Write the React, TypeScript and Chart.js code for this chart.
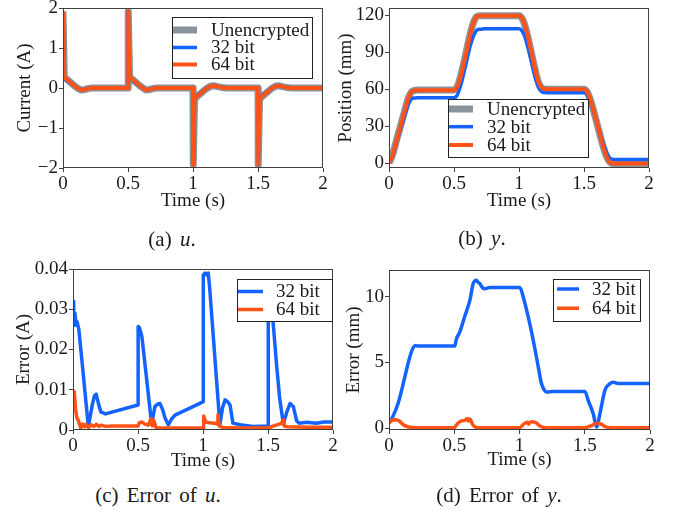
import React, { useEffect, useRef } from "react";
import { Chart, registerables } from "chart.js";

Chart.register(...registerables);

// ---------------- data ----------------
const X_TICKS = [0, 0.5, 1, 1.5, 2];
const X_TICK_LABELS = ["0", "0.5", "1", "1.5", "2"];

// (a) control input u
const tU = [0, 0.01, 0.04, 0.065, 0.09, 0.115, 0.14, 0.165, 0.19, 0.22,
  0.5, 0.502, 0.512, 0.54, 0.565, 0.59, 0.615, 0.64, 0.665, 0.69, 0.72,
  1.0, 1.002, 1.012, 1.04, 1.065, 1.09, 1.115, 1.14, 1.165, 1.19, 1.22, 1.26,
  1.5, 1.502, 1.512, 1.54, 1.565, 1.59, 1.615, 1.64, 1.665, 1.69, 1.72, 1.76, 2.0];
const uUnencrypted = [1.92, 0.27, 0.19, 0.12, 0.05, -0.01, -0.05, -0.04, -0.015, 0,
  0, 1.92, 0.28, 0.2, 0.13, 0.06, 0, -0.05, -0.04, -0.015, 0,
  0, -1.92, -0.27, -0.19, -0.12, -0.05, 0.01, 0.05, 0.055, 0.035, 0.015, 0,
  0, -1.92, -0.27, -0.19, -0.12, -0.05, 0.01, 0.05, 0.055, 0.035, 0.015, 0, 0];
const u32 = [1.89, 0.244, 0.164, 0.103, 0.045, -0.011, -0.044, -0.032, -0.011, 0.004,
  0.006, 1.895, 0.256, 0.18, 0.118, 0.055, 0.001, -0.044, -0.034, -0.013, 0.004,
  0.007, -1.88, -0.232, -0.165, -0.105, -0.045, 0.012, 0.057, 0.062, 0.04, 0.016, 0.001,
  0.001, -1.88, -0.24, -0.168, -0.108, -0.047, 0.012, 0.056, 0.061, 0.038, 0.017, 0.002, 0.002];
const u64 = [1.91, 0.26, 0.188, 0.119, 0.05, -0.01, -0.049, -0.039, -0.014, 0.001,
  0.001, 1.918, 0.278, 0.199, 0.13, 0.06, 0.001, -0.05, -0.04, -0.015, 0,
  0, -1.917, -0.268, -0.189, -0.12, -0.05, 0.01, 0.05, 0.055, 0.035, 0.015, 0,
  0, -1.918, -0.269, -0.19, -0.12, -0.05, 0.011, 0.05, 0.055, 0.035, 0.015, 0, 0.001];
const Y_TICKS_U = [-2, -1, 0, 1, 2];
const Y_TICK_LABELS_U = ["\u22122", "\u22121", "0", "1", "2"];

// (b) position y
const tY = [0, 0.025, 0.05, 0.075, 0.1, 0.125, 0.15, 0.175, 0.2, 0.225, 0.25,
  0.5, 0.525, 0.55, 0.575, 0.6, 0.625, 0.65, 0.675, 0.7, 0.725, 0.75,
  1.0, 1.025, 1.05, 1.075, 1.1, 1.125, 1.15, 1.175, 1.2, 1.225, 1.25,
  1.5, 1.525, 1.55, 1.575, 1.6, 1.625, 1.65, 1.675, 1.7, 1.725, 1.75, 2.0];
const yUnencrypted = [0, 6, 15.5, 25, 34.5, 44, 53, 58, 59, 59.2, 59.2,
  59.2, 62, 70, 81, 93, 105, 114, 118.8, 119.5, 119.5, 119.5,
  119.5, 117, 110, 99, 87, 75, 65.5, 61, 60, 59.8, 59.8,
  59.8, 57.5, 51, 42, 32, 22, 12.5, 5, 0.5, -0.5, -0.5, -0.5];
const y32 = [0, 5.2, 14.1, 22.9, 31.5, 39.9, 47.9, 52.1, 52.75, 52.9, 52.95,
  52.95, 55.1, 62.4, 72.6, 83.9, 95, 103, 107.6, 108.5, 108.8, 108.9,
  108.8, 106.9, 100.9, 90.9, 80.1, 69.4, 61.2, 57.8, 57.2, 57.0, 57.0,
  57.0, 55.3, 49.5, 41.3, 32.5, 23.5, 15.1, 8.2, 3.95, 3.0, 2.9, 2.9];
const y64 = [0, 5.4, 14.9, 24.5, 34.2, 43.85, 52.9, 57.9, 58.9, 59.1, 59.1,
  59.1, 61.7, 69.5, 80.4, 92.25, 104.55, 113.8, 118.75, 119.45, 119.45, 119.45,
  119.45, 117.1, 110.35, 99.45, 87.5, 75.4, 65.7, 61.05, 60.05, 59.85, 59.85,
  59.85, 57.6, 51.2, 42.3, 32.4, 22.35, 12.6, 5.05, 0.55, -0.45, -0.45, -0.45];
const Y_TICKS_Y = [0, 30, 60, 90, 120];
const Y_TICK_LABELS_Y = ["0", "30", "60", "90", "120"];

// (c) error of u
const tErrU32 = [0, 0.005, 0.01, 0.015, 0.02, 0.03, 0.045, 0.06, 0.08, 0.1, 0.118, 0.13, 0.15, 0.165, 0.178, 0.2, 0.215, 0.25, 0.5,
  0.501, 0.51, 0.52, 0.53, 0.55, 0.58, 0.605, 0.63, 0.65, 0.669, 0.69, 0.708, 0.733, 0.76, 0.785, 1.0,
  1.002, 1.015, 1.03, 1.04, 1.05, 1.06, 1.08, 1.1, 1.12, 1.13, 1.15, 1.17, 1.19, 1.208, 1.23, 1.285, 1.385, 1.49, 1.5,
  1.502, 1.51, 1.525, 1.541, 1.567, 1.59, 1.618, 1.645, 1.67, 1.695, 1.72, 1.74, 1.8, 1.87, 1.93, 2.0];
const errU32 = [0.032, 0.031, 0.026, 0.029, 0.027, 0.027, 0.025, 0.02, 0.0135, 0.0068, 0.0008, 0.003, 0.0065, 0.0085, 0.0089, 0.006, 0.0045, 0.004, 0.0062,
  0.0257, 0.0255, 0.0244, 0.0232, 0.0174, 0.0087, 0.0015, 0.0058, 0.0064, 0.0066, 0.005, 0.003, 0.0013, 0.0028, 0.0037, 0.007,
  0.0385, 0.039, 0.0385, 0.039, 0.0358, 0.0315, 0.0229, 0.0142, 0.0056, 0.0013, 0.0055, 0.0075, 0.007, 0.0062, 0.0017, 0.0013, 0.0009, 0.001, 0.0008,
  0.037, 0.036, 0.032, 0.026, 0.0158, 0.0078, 0.0015, 0.0045, 0.0066, 0.0058, 0.0023, 0.0017, 0.0019, 0.0017, 0.002, 0.002];
const tErrU64 = [0, 0.01, 0.02, 0.03, 0.04, 0.05, 0.06, 0.075, 0.09, 0.1, 0.12, 0.14, 0.16, 0.18, 0.2, 0.22, 0.25, 0.3, 0.4, 0.5,
  0.51, 0.53, 0.55, 0.58, 0.6, 0.61, 0.62, 0.64, 0.7, 0.8, 0.9, 1.0, 1.005, 1.02, 1.05, 1.09, 1.11, 1.115, 1.125, 1.15,
  1.3, 1.5, 1.55, 1.6, 1.62, 1.625, 1.65, 1.8, 2.0];
const errU64 = [0.0098, 0.0095, 0.005, 0.003, 0.0025, 0.0015, 0.0005, 0.0015, 0.0008, 0.0014, 0.0006, 0.0013, 0.0009, 0.0014, 0.0009, 0.0012, 0.0009, 0.001, 0.001, 0.001,
  0.0018, 0.002, 0.0015, 0.0012, 0.0028, 0.001, 0.0025, 0.0005, 0.0005, 0.0005, 0.0005, 0.0005, 0.0035, 0.002, 0.0018, 0.0017, 0.0015, 0.0038, 0.001, 0.0006,
  0.0005, 0.0005, 0.0011, 0.0016, 0.0025, 0.001, 0.0008, 0.0007, 0.0007];
const Y_TICKS_EU = [0, 0.01, 0.02, 0.03, 0.04];
const Y_TICK_LABELS_EU = ["0", "0.01", "0.02", "0.03", "0.04"];

// (d) error of y
const tErrY32 = [0, 0.03, 0.07, 0.107, 0.133, 0.159, 0.184, 0.205, 0.22, 0.504, 0.517, 0.542, 0.58, 0.619, 0.645, 0.658, 0.67, 0.683, 0.696, 0.715,
  0.734, 0.772, 1.003, 1.028, 1.066, 1.105, 1.143, 1.168, 1.19, 1.207, 1.258, 1.501, 1.527, 1.565, 1.591, 1.616, 1.655, 1.693, 1.719, 1.757, 2.0];
const errY32 = [0.4, 0.9, 1.9, 3.3, 4.4, 5.4, 6.1, 6.3, 6.25, 6.25, 6.8, 7.3, 8.5, 9.7, 11.0, 11.2, 11.25, 11.1, 11.0, 10.7,
  10.6, 10.7, 10.7, 10.0, 8.5, 6.7, 4.7, 3.4, 2.9, 2.75, 2.8, 2.8, 2.1, 1.1, 0.1, 1.1, 2.9, 3.4, 3.5, 3.4, 3.4];
const tErrY64 = [0, 0.02, 0.05, 0.08, 0.1, 0.12, 0.15, 0.2, 0.5, 0.52, 0.55, 0.58, 0.6, 0.61, 0.62, 0.64, 0.66, 0.68, 1.0, 1.03,
  1.06, 1.07, 1.08, 1.1, 1.13, 1.16, 1.2, 1.5, 1.55, 1.58, 1.6, 1.63, 1.66, 1.7, 2.0];
const errY64 = [0.4, 0.6, 0.65, 0.55, 0.35, 0.2, 0.1, 0.05, 0.05, 0.3, 0.55, 0.6, 0.75, 0.55, 0.7, 0.3, 0.1, 0.05, 0.05, 0.3,
  0.45, 0.3, 0.45, 0.5, 0.4, 0.15, 0.05, 0.05, 0.2, 0.35, 0.38, 0.3, 0.1, 0.05, 0.05];
const Y_TICKS_EY = [0, 5, 10];
const Y_TICK_LABELS_EY = ["0", "5", "10"];

// ---------------- styles ----------------
const FONT = "'Liberation Serif', 'Times New Roman', serif";
const FS = 19;
const INK = "#1a1a1a";
const FRAME = "#404040";
const GRAY = "#8a929b";
const BLUE = "#1463ff";
const ORANGE = "#ff5216";

const pts = (xs: number[], ys: number[]) => xs.map((x, i) => ({ x, y: ys[i] }));

type Series = { label: string; x: number[]; y: number[]; color: string; width: number };
type Panel = {
  canvas: [number, number, number, number];
  plot: [number, number, number, number];
  yRange: [number, number];
  yTicks: number[];
  yTickLabels: string[];
  yTitle: string;
  yTitleX: number;
  xTitleY: number;
  smooth: boolean;
  series: Series[];
  legend: { box: [number, number, number, number]; rows: number[]; sample: [number, number]; textX: number };
};

const PANELS: Panel[] = [
  {
    canvas: [0, -12, 340, 225], plot: [63, 8, 323, 168], yRange: [-2, 2],
    yTicks: Y_TICKS_U, yTickLabels: Y_TICK_LABELS_U, yTitle: "Current (A)", yTitleX: 25, xTitleY: 201.5, smooth: false,
    series: [
      { label: "Unencrypted", x: tU, y: uUnencrypted, color: GRAY, width: 7 },
      { label: "32 bit", x: tU, y: u32, color: BLUE, width: 3.5 },
      { label: "64 bit", x: tU, y: u64, color: ORANGE, width: 4 },
    ],
    legend: { box: [172, 17, 313, 79], rows: [30, 47.5, 64.5], sample: [173, 197], textX: 211 },
  },
  {
    canvas: [325, -12, 354, 225], plot: [389, 8, 649, 168], yRange: [-4, 125.7],
    yTicks: Y_TICKS_Y, yTickLabels: Y_TICK_LABELS_Y, yTitle: "Position (mm)", yTitleX: 346, xTitleY: 201.5, smooth: true,
    series: [
      { label: "Unencrypted", x: tY, y: yUnencrypted, color: GRAY, width: 7 },
      { label: "32 bit", x: tY, y: y32, color: BLUE, width: 3.5 },
      { label: "64 bit", x: tY, y: y64, color: ORANGE, width: 4 },
    ],
    legend: { box: [448, 99, 589, 158], rows: [109, 126.7, 145], sample: [449, 473], textX: 487 },
  },
  {
    canvas: [0, 249, 340, 226], plot: [73, 269, 333, 430], yRange: [0, 0.04],
    yTicks: Y_TICKS_EU, yTickLabels: Y_TICK_LABELS_EU, yTitle: "Error (A)", yTitleX: 24.5, xTitleY: 461.5, smooth: false,
    series: [
      { label: "32 bit", x: tErrU32, y: errU32, color: BLUE, width: 3.5 },
      { label: "64 bit", x: tErrU64, y: errU64, color: ORANGE, width: 3.5 },
    ],
    legend: { box: [237, 279, 333, 322], rows: [291.5, 309.5], sample: [238, 263], textX: 276 },
  },
  {
    canvas: [325, 250, 354, 225], plot: [389, 270, 650, 430], yRange: [-0.13, 12.03],
    yTicks: Y_TICKS_EY, yTickLabels: Y_TICK_LABELS_EY, yTitle: "Error (mm)", yTitleX: 354.5, xTitleY: 460, smooth: true,
    series: [
      { label: "32 bit", x: tErrY32, y: errY32, color: BLUE, width: 3.5 },
      { label: "64 bit", x: tErrY64, y: errY64, color: ORANGE, width: 3.5 },
    ],
    legend: { box: [553, 279, 641, 322], rows: [289, 308.3], sample: [557, 579], textX: 592 },
  },
];

function makeOverlay(p: Panel) {
  const [ox, oy] = p.canvas;
  return {
    id: "frameAndLegend",
    afterDatasetsDraw(chart: any) {
      const { ctx, chartArea: a } = chart;
      ctx.save();
      ctx.strokeStyle = FRAME;
      ctx.lineWidth = 1;
      ctx.strokeRect(a.left + 0.5, a.top + 0.5, a.right - a.left - 1, a.bottom - a.top - 1);
      const L = p.legend;
      const [x0, y0, x1, y1] = L.box;
      ctx.fillStyle = "#ffffff";
      ctx.fillRect(x0 - ox, y0 - oy, x1 - x0, y1 - y0);
      ctx.strokeStyle = "#222222";
      ctx.strokeRect(x0 - ox + 0.5, y0 - oy + 0.5, x1 - x0 - 1, y1 - y0 - 1);
      p.series.forEach((s, i) => {
        const y = L.rows[i] - oy;
        ctx.strokeStyle = s.color;
        ctx.lineWidth = s.width;
        ctx.lineCap = "butt";
        ctx.beginPath();
        ctx.moveTo(L.sample[0] - ox, y);
        ctx.lineTo(L.sample[1] - ox, y);
        ctx.stroke();
        ctx.fillStyle = INK;
        ctx.font = `${FS}px ${FONT}`;
        ctx.textBaseline = "middle";
        ctx.textAlign = "left";
        ctx.fillText(s.label, L.textX - ox, y + 1);
      });
      ctx.restore();
    },
  };
}

function buildConfig(p: Panel): any {
  const [cx, cy, cw, ch] = p.canvas;
  const [L, T, R, B] = p.plot;
  const lh = FS * 1.2;
  const yAxisW = L - cx;
  const xAxisH = cy + ch - B;
  const n = p.series.length;
  return {
    type: "line",
    data: {
      datasets: p.series.map((s, i) => ({
        label: s.label,
        data: pts(s.x, s.y),
        order: n - i, // later series drawn on top
        borderColor: s.color,
        backgroundColor: s.color,
        borderWidth: s.width,
        pointRadius: 0,
        fill: false,
        tension: 0,
        cubicInterpolationMode: p.smooth ? "monotone" : "default",
        borderJoinStyle: "round",
        borderCapStyle: "butt",
      })),
    },
    options: {
      responsive: false,
      animation: false,
      devicePixelRatio: 1,
      events: [],
      layout: { padding: { left: 0, top: T - cy, right: cx + cw - R, bottom: 0 } },
      plugins: { legend: { display: false }, tooltip: { enabled: false } },
      scales: {
        x: {
          type: "linear",
          min: 0,
          max: 2,
          afterBuildTicks: (s: any) => { s.ticks = X_TICKS.map((v) => ({ value: v })); },
          afterFit: (s: any) => { s.height = xAxisH; },
          ticks: {
            autoSkip: false, maxRotation: 0, minRotation: 0, padding: 1, color: INK,
            font: { family: FONT, size: FS },
            callback: (_v: any, i: number) => X_TICK_LABELS[i],
          },
          grid: { display: true, drawOnChartArea: false, drawTicks: true, tickLength: 4, tickColor: FRAME, color: FRAME },
          border: { display: false },
          title: {
            display: true, text: "Time (s)", color: INK, font: { family: FONT, size: FS },
            padding: { top: 0, bottom: cy + ch - p.xTitleY - lh / 2 },
          },
        },
        y: {
          type: "linear",
          min: p.yRange[0],
          max: p.yRange[1],
          afterBuildTicks: (s: any) => { s.ticks = p.yTicks.map((v) => ({ value: v })); },
          afterFit: (s: any) => { s.width = yAxisW; },
          ticks: {
            autoSkip: false, padding: 1, color: INK,
            font: { family: FONT, size: FS },
            callback: (_v: any, i: number) => p.yTickLabels[i],
          },
          grid: { display: true, drawOnChartArea: false, drawTicks: true, tickLength: 4, tickColor: FRAME, color: FRAME },
          border: { display: false },
          title: {
            display: true, text: p.yTitle, color: INK, font: { family: FONT, size: FS },
            padding: { top: p.yTitleX - cx - lh / 2, bottom: 0 },
          },
        },
      },
    },
    plugins: [makeOverlay(p)],
  };
}

function ChartPanel({ panel }: { panel: Panel }) {
  const ref = useRef<HTMLCanvasElement>(null);
  useEffect(() => {
    const chart = new Chart(ref.current as HTMLCanvasElement, buildConfig(panel));
    return () => chart.destroy();
  }, [panel]);
  const [cx, cy, cw, ch] = panel.canvas;
  return (
    <canvas
      ref={ref}
      width={cw}
      height={ch}
      style={{ position: "absolute", left: cx, top: cy, width: cw, height: ch }}
    />
  );
}

const CAPTIONS: { x: number; y: number; pre: string; mid: string; v: string }[] = [
  { x: 172, y: 239, pre: "(a)", mid: "", v: "u" },
  { x: 482, y: 238, pre: "(b)", mid: "", v: "y" },
  { x: 158, y: 495, pre: "(c)", mid: "Error of", v: "u" },
  { x: 499, y: 495, pre: "(d)", mid: "Error of", v: "y" },
];

export default function App() {
  return (
    <div style={{ position: "absolute", left: 0, top: 0, width: 679, height: 513, background: "#fff", overflow: "hidden" }}>
      {PANELS.map((p, i) => (
        <ChartPanel key={i} panel={p} />
      ))}
      {CAPTIONS.map((c, i) => (
        <div
          key={"c" + i}
          style={{
            position: "absolute", left: c.x, top: c.y, transform: "translate(-50%, -50%)",
            fontFamily: FONT, fontSize: 21, color: INK, whiteSpace: "nowrap", wordSpacing: 3, lineHeight: 1,
          }}
        >
          {c.pre} {c.mid ? c.mid + " " : ""}<i>{c.v}</i>.
        </div>
      ))}
    </div>
  );
}
